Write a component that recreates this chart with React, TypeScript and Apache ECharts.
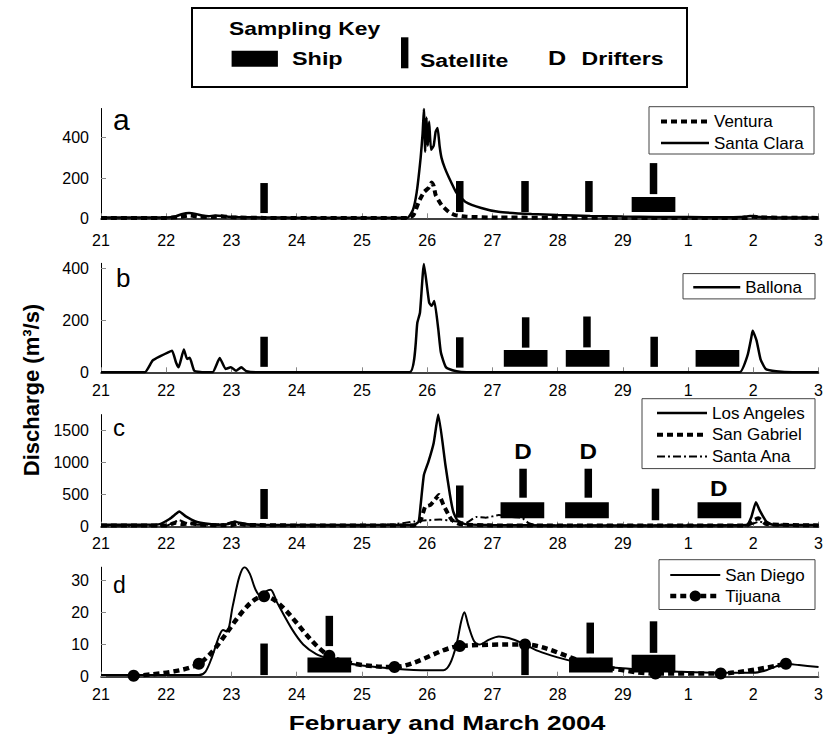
import React, { useEffect, useRef } from 'react';
import * as echarts from 'echarts';

const FONT = '"Liberation Sans", Arial, Helvetica, sans-serif';

// x axis: days since 21 February 2004 (2004 is a leap year)
const xTickLabels = ['21', '22', '23', '24', '25', '26', '27', '28', '29', '1', '2', '3'];

const yTicksA = [0, 200, 400];
const yTicksB = [0, 200, 400];
const yTicksC = [0, 500, 1000, 1500];
const yTicksD = [0, 10, 20, 30];

// Panel a
const ventura = [
  [0, 2], [1.0, 2], [1.2, 6], [1.35, 14], [1.5, 8], [1.7, 6], [1.85, 10], [2.0, 5], [2.5, 2],
  [4.7, 2], [4.79, 16], [4.87, 81], [4.95, 130], [5.02, 150], [5.07, 178], [5.1, 160], [5.13, 116],
  [5.22, 66], [5.33, 32], [5.43, 16], [5.6, 8], [6.0, 4], [7, 3], [8, 2], [9.9, 2], [10.0, 8],
  [10.1, 4], [11, 2],
];
const santaClara = [
  [0, 4], [0.5, 4], [1.0, 4], [1.15, 10], [1.25, 22], [1.35, 26], [1.45, 22], [1.55, 14], [1.65, 10],
  [1.75, 14], [1.85, 12], [1.95, 8], [2.1, 6], [2.3, 5], [2.6, 4], [3.0, 3], [4.0, 3], [4.7, 3],
  [4.78, 40], [4.84, 130], [4.9, 300], [4.93, 420], [4.95, 542], [4.97, 330], [4.99, 500],
  [5.01, 360], [5.03, 480], [5.06, 340], [5.1, 360], [5.13, 430], [5.16, 448], [5.19, 360],
  [5.22, 300], [5.27, 250], [5.33, 205], [5.45, 126], [5.59, 81], [5.83, 51], [6.09, 32],
  [6.6, 21], [7.0, 16], [7.5, 12], [8.0, 9], [8.5, 7], [9.0, 6], [9.5, 5], [9.8, 6], [9.95, 12],
  [10.05, 8], [10.3, 5], [10.7, 4], [11, 4],
];
const shipA = [[8.47, 31, 106]];
const satA = [[2.5, 26, 175], [5.5, 31, 185], [6.5, 31, 185], [7.48, 31, 185], [8.47, 120, 274]];

// Panel b
const ballona = [
  [0, 0], [0.67, 0], [0.79, 45], [0.91, 62], [1.03, 77], [1.09, 83], [1.15, 38], [1.19, 19],
  [1.27, 88], [1.32, 51], [1.36, 56], [1.43, 6], [1.55, 0], [1.71, 0], [1.82, 55], [1.91, 13],
  [1.99, 19], [2.07, 6], [2.15, 19], [2.23, 4], [2.43, 0], [4.73, 0], [4.85, 192], [4.89, 230],
  [4.95, 417], [5.03, 269], [5.07, 256], [5.11, 275], [5.17, 167], [5.21, 77], [5.29, 19],
  [5.45, 4], [5.6, 0], [9.79, 0], [9.91, 64], [9.97, 135], [9.99, 160], [10.05, 122],
  [10.11, 51], [10.19, 13], [10.35, 4], [10.6, 0], [11, 0],
];
const shipB = [[6.51, 21, 86], [7.46, 21, 86], [9.45, 21, 86]];
const satB = [[2.5, 21, 137], [5.5, 18, 135], [6.51, 95, 212], [7.45, 96, 215], [8.48, 21, 137]];

// Panel c
const losAngeles = [
  [0, 30], [0.5, 30], [0.9, 40], [1.05, 120], [1.15, 200], [1.2, 235], [1.3, 160], [1.45, 80],
  [1.6, 50], [1.8, 30], [1.95, 40], [2.05, 80], [2.12, 60], [2.25, 40], [2.5, 30], [3, 25],
  [4, 25], [4.5, 25], [4.8, 30], [4.87, 78], [4.9, 337], [4.95, 803], [5.02, 1010], [5.1, 1300],
  [5.17, 1740], [5.28, 958], [5.35, 492], [5.4, 233], [5.46, 104], [5.58, 40], [6, 25], [7, 20],
  [8, 20], [9, 20], [9.9, 25], [9.97, 150], [10.04, 380], [10.1, 250], [10.2, 80], [10.3, 30],
  [11, 25],
];
const sanGabriel = [
  [0, 20], [1.0, 20], [1.15, 60], [1.25, 40], [1.4, 50], [1.5, 30], [2, 20], [2.1, 50], [2.2, 30],
  [3, 20], [4.8, 20], [4.9, 100], [4.97, 311], [5.05, 337], [5.12, 420], [5.18, 492], [5.25, 337],
  [5.33, 181], [5.38, 104], [5.5, 40], [6, 20], [9.9, 20], [10.0, 100], [10.08, 130], [10.2, 40],
  [11, 20],
];
const santaAna = [
  [0, 15], [1, 15], [1.1, 60], [1.2, 100], [1.3, 60], [1.5, 30], [1.9, 40], [2.0, 70], [2.1, 40],
  [2.5, 20], [4, 20], [4.5, 40], [4.8, 80], [5.0, 100], [5.2, 110], [5.4, 90], [5.6, 60],
  [5.75, 150], [5.9, 140], [6.1, 180], [6.3, 150], [6.45, 140], [6.55, 60], [6.7, 20], [9.9, 20],
  [10.1, 80], [10.2, 40], [11, 20],
];
const shipC = [[6.46, 130, 380], [7.45, 130, 380], [9.48, 130, 380]];
const satC = [[2.5, 120, 585], [5.5, 140, 640], [6.47, 450, 900], [7.47, 450, 900], [8.5, 100, 590]];
const drifterC = [[6.47, 1170], [7.47, 1170], [9.47, 600]];

// Panel d
const sanDiego = [
  [0, 0.5], [1.5, 0.5], [1.6, 1.5], [1.7, 6], [1.8, 12], [1.87, 14.5], [1.93, 14], [2.02, 22],
  [2.12, 31], [2.2, 34], [2.28, 32], [2.37, 27], [2.45, 25], [2.53, 26.5], [2.6, 27], [2.7, 23],
  [2.92, 15], [3.1, 10], [3.3, 7], [3.5, 5.5], [3.7, 4.5], [4.0, 3.5], [4.5, 2.5], [5.0, 2],
  [5.25, 2], [5.35, 4], [5.45, 10], [5.52, 17], [5.57, 20], [5.63, 16], [5.72, 11], [5.8, 10],
  [5.95, 11.5], [6.1, 12.5], [6.25, 12], [6.45, 10.5], [6.7, 8], [7.0, 6], [7.3, 4.5], [7.7, 3.2],
  [8.1, 2.5], [8.5, 2], [8.9, 1.5], [9.5, 1.2], [10.0, 1.2], [10.2, 2], [10.35, 3.2], [10.5, 4],
  [10.7, 3.6], [11, 3],
];
const tijuana = [
  [0.5, 0.3], [1.5, 4], [2.5, 25], [3.5, 6.5], [4.5, 3], [5.5, 9.5], [6.5, 10], [7.5, 4],
  [8.5, 1], [9.5, 1], [10.5, 4],
];
const shipD = [[3.5, 1.3, 6], [7.51, 1.3, 6], [8.47, 1.3, 6.8]];
const satD = [[2.5, 0.5, 10.3], [3.5, 9.5, 18.9], [6.5, 0.5, 9.5], [7.5, 7.2, 16.8], [8.47, 7.4, 17.2]];

const SHIP_W = 0.67;
const SAT_W = 0.115;

const grids = [
  { top: 108.5, height: 109.8 },
  { top: 263.3, height: 109 },
  { top: 414.6, height: 112.1 },
  { top: 567.2, height: 109.5 },
];
const yMax = [545, 420, 1740, 34];
const yTicks = [yTicksA, yTicksB, yTicksC, yTicksD];
const xMargins = [14, 10, 9, 10];

const SOLID = { color: '#000', width: 2.5, type: 'solid' };
const SOLID_THIN = { color: '#000', width: 2, type: 'solid' };
const THICK_DASH = { color: '#000', width: 4, type: [6, 4] };
const DASH_DOT = { color: '#000', width: 2, type: [8, 3, 2, 3] };

function lineSeries(name: string, data: number[][], idx: number, style: any, extra: any = {}) {
  return {
    type: 'line', name, xAxisIndex: idx, yAxisIndex: idx, data,
    symbol: 'none', smooth: 0.15,
    lineStyle: { ...style },
    itemStyle: { color: '#000' },
    emphasis: { disabled: true },
    z: 3,
    ...extra,
  };
}

function barSeries(data: number[][], idx: number, w: number) {
  return {
    type: 'custom', xAxisIndex: idx, yAxisIndex: idx, data, silent: true, z: 5,
    renderItem: (params: any, api: any) => {
      const x = api.value(0), lo = api.value(1), hi = api.value(2);
      const p0 = api.coord([x - w / 2, hi]);
      const p1 = api.coord([x + w / 2, lo]);
      return {
        type: 'rect',
        shape: { x: p0[0], y: p0[1], width: p1[0] - p0[0], height: p1[1] - p0[1] },
        style: { fill: '#000' },
      };
    },
  };
}

function drifterSeries(data: number[][], idx: number) {
  return {
    type: 'custom', xAxisIndex: idx, yAxisIndex: idx, data, silent: true, z: 6,
    renderItem: (params: any, api: any) => {
      const p = api.coord([api.value(0), api.value(1)]);
      return {
        type: 'text', x: p[0], y: p[1], scaleX: 1.1,
        style: {
          text: 'D', fill: '#000', font: `bold 22px ${FONT}`,
          textAlign: 'center', textVerticalAlign: 'middle', align: 'center', verticalAlign: 'middle',
        },
      };
    },
  };
}

function txt(text: string, x: number, y: number, font: string, opts: any = {}) {
  const { center, ...rest } = opts;
  return {
    type: 'text', x, y, z: 10, ...rest,
    style: {
      text, font, fill: '#000',
      textAlign: center ? 'center' : 'left', align: center ? 'center' : 'left',
      textVerticalAlign: 'middle', verticalAlign: 'middle',
    },
  };
}

function boxRect(x: number, y: number, w: number, h: number, stroke = '#444', lw = 1) {
  return { type: 'rect', z: 8, shape: { x, y, width: w, height: h }, style: { fill: '#fff', stroke, lineWidth: lw } };
}

function legendItem(name: string, lineStyle: any, marker = false) {
  return marker
    ? { name, lineStyle: { ...lineStyle }, itemStyle: { color: '#000', opacity: 1 } }
    : { name, lineStyle: { ...lineStyle }, itemStyle: { opacity: 0 } };
}

export default function App() {
  const ref = useRef<HTMLDivElement>(null);
  useEffect(() => {
    if (!ref.current) return;
    const chart = echarts.init(ref.current, null, { renderer: 'svg' });

    const grid = grids.map((g) => ({ left: 101, width: 720.5, top: g.top, height: g.height, containLabel: false }));
    const xAxis = grids.map((_, i) => ({
      type: 'value', gridIndex: i, min: 0, max: 11, interval: 1,
      axisLine: { onZero: false, lineStyle: { color: '#000', width: 1.5 } },
      axisTick: { inside: true, length: 5, lineStyle: { color: '#888' } },
      axisLabel: {
        margin: xMargins[i], color: '#000', fontSize: 16, fontFamily: FONT,
        formatter: (v: number) => xTickLabels[Math.round(v)] ?? '',
      },
      splitLine: { show: false },
    }));
    const yAxis = grids.map((_, i) => ({
      type: 'value', gridIndex: i, min: 0, max: yMax[i],
      axisLine: { show: true, lineStyle: { color: '#000', width: 1 } },
      axisTick: { show: true, inside: true, length: 5, customValues: yTicks[i], lineStyle: { color: '#888' } },
      axisLabel: {
        margin: 12, color: '#000', fontSize: 16, fontFamily: FONT, customValues: yTicks[i],
        formatter: (v: number) => String(v),
      },
      splitLine: { show: false },
    }));

    const series: any[] = [
      lineSeries('Ventura', ventura, 0, THICK_DASH),
      lineSeries('Santa Clara', santaClara, 0, SOLID),
      lineSeries('Ballona', ballona, 1, SOLID),
      lineSeries('Los Angeles', losAngeles, 2, SOLID),
      lineSeries('San Gabriel', sanGabriel, 2, THICK_DASH),
      lineSeries('Santa Ana', santaAna, 2, DASH_DOT),
      lineSeries('San Diego', sanDiego, 3, SOLID_THIN, { smooth: 0.3 }),
      lineSeries('Tijuana', tijuana, 3, { ...THICK_DASH, width: 4.5 }, {
        symbol: 'circle', symbolSize: 12, showSymbol: true, smooth: 0.3,
      }),
      barSeries(shipA, 0, SHIP_W), barSeries(satA, 0, SAT_W),
      barSeries(shipB, 1, SHIP_W), barSeries(satB, 1, SAT_W),
      barSeries(shipC, 2, SHIP_W), barSeries(satC, 2, SAT_W), drifterSeries(drifterC, 2),
      barSeries(shipD, 3, SHIP_W), barSeries(satD, 3, SAT_W),
    ];

    const legendBase = {
      orient: 'vertical', selectedMode: false, itemHeight: 14, padding: 0, z: 12,
      textStyle: { fontSize: 17, color: '#000', fontFamily: FONT },
    };
    const legend = [
      {
        ...legendBase, left: 659, top: 113, itemWidth: 48, itemGap: 4.6,
        data: [legendItem('Ventura', THICK_DASH), legendItem('Santa Clara', SOLID)],
      },
      { ...legendBase, left: 692, top: 278.8, itemWidth: 47, data: [legendItem('Ballona', SOLID)] },
      {
        ...legendBase, left: 655, top: 404.5, itemWidth: 50, itemGap: 4.8,
        data: [
          legendItem('Los Angeles', SOLID),
          legendItem('San Gabriel', THICK_DASH),
          legendItem('Santa Ana', DASH_DOT),
        ],
      },
      {
        ...legendBase, left: 668, top: 566.5, itemWidth: 50, itemGap: 4,
        data: [legendItem('San Diego', SOLID_THIN), legendItem('Tijuana', { ...THICK_DASH, width: 4.5 }, true)],
      },
    ];

    const keyFont = `bold 18px ${FONT}`;
    const graphic = {
      elements: [
        boxRect(192, 8, 495, 79, '#000', 2),
        txt('Sampling Key', 229, 28.3, keyFont, { scaleX: 1.27 }),
        { type: 'rect', z: 10, shape: { x: 231.6, y: 50.7, width: 46.3, height: 16 }, style: { fill: '#000' } },
        txt('Ship', 292, 58.3, keyFont, { scaleX: 1.3 }),
        { type: 'rect', z: 10, shape: { x: 401, y: 37.3, width: 7.4, height: 31 }, style: { fill: '#000' } },
        txt('Satellite', 420, 60, keyFont, { scaleX: 1.28 }),
        txt('D', 548, 57.3, `bold 21px ${FONT}`, { scaleX: 1.2 }),
        txt('Drifters', 581.6, 58.3, keyFont, { scaleX: 1.28 }),
        boxRect(649, 106.7, 165, 47.3),
        boxRect(683, 273.6, 132, 25.3),
        boxRect(642, 398.7, 173, 69.9),
        boxRect(659, 559.7, 156, 49.8),
        txt('a', 113, 119.5, `30px ${FONT}`),
        txt('b', 116, 278, `26px ${FONT}`),
        txt('c', 113, 427, `24px ${FONT}`),
        txt('d', 113, 585, `23px ${FONT}`),
        txt('Discharge (m³/s)', 31, 390, `bold 22px ${FONT}`, { rotation: Math.PI / 2, center: true }),
        txt('February and March 2004', 447, 722, `bold 21px ${FONT}`, { scaleX: 1.25, center: true }),
      ],
    };

    chart.setOption({
      animation: false,
      backgroundColor: '#fff',
      grid, xAxis, yAxis, series, legend, graphic,
    });
    return () => chart.dispose();
  }, []);
  return <div ref={ref} style={{ position: 'absolute', left: 0, top: 0, width: 826, height: 738, background: '#fff' }} />;
}
